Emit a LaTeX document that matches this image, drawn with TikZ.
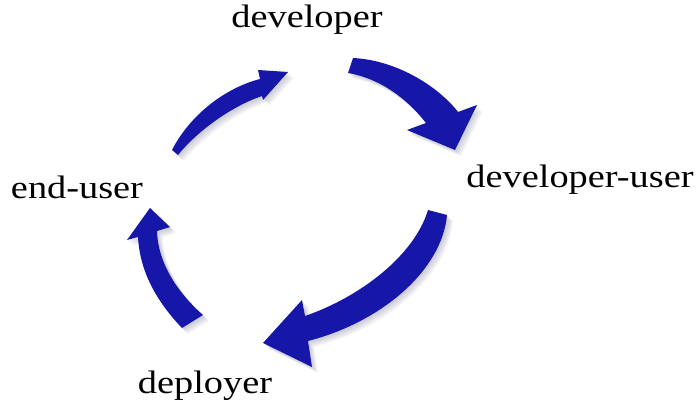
\documentclass[tikz,border=0pt]{standalone}
\usepackage{fontspec}
\setmainfont{Liberation Serif}[FakeStretch=1.18]
\definecolor{arrowblue}{RGB}{22,22,168}
\definecolor{shadowcol}{RGB}{120,120,150}
\tikzset{
  lbl/.style={font=\fontsize{32.5}{36}\selectfont, inner sep=0pt, anchor=base, text=black},
  arrowfill/.style={fill=arrowblue},
  shadowfill/.style={fill=shadowcol, opacity=0.07},
  arrowA/.style={insert path={(353,58) .. controls (395,60) and (437,85) .. (458,112) -- (477,105) -- (455,150) -- (407,130) -- (426,123) .. controls (408,100) and (382,79) .. (348,73) -- cycle}},
  arrowB/.style={insert path={(447,215) .. controls (442,270) and (382,322) .. (308,341) -- (312,367) -- (263,343) -- (302,300) -- (305,316) .. controls (360,297) and (414,256) .. (428,210) -- cycle}},
  arrowC/.style={insert path={(157,231) -- (170,227) -- (150,208) -- (127,240) -- (138,237) .. controls (140,275) and (160,305) .. (182,328) -- (203,315) .. controls (180,295) and (158,265) .. (157,231) -- cycle}},
  arrowD/.style={insert path={(260,79) .. controls (225,88) and (190,115) .. (172,150) -- (178,155) .. controls (200,128) and (235,105) .. (262,96) -- (263,100) -- (288,72) -- (258,70) -- cycle}},
}
\begin{document}
\begin{tikzpicture}[x=1pt,y=-1pt]
  \useasboundingbox[fill=white] (0,0) rectangle (697,414);
  % soft shadows
  \foreach \s in {1,2,3,4,5,6}{
    \begin{scope}[shift={(\s,\s)}]
      \fill[shadowfill, arrowA];
      \fill[shadowfill, arrowB];
      \fill[shadowfill, arrowC];
      \fill[shadowfill, arrowD];
    \end{scope}
  }
  % arrows
  \fill[arrowfill, arrowA];
  \fill[arrowfill, arrowB];
  \fill[arrowfill, arrowC];
  \fill[arrowfill, arrowD];
  % labels
  \node[lbl] (developer) at (307,28) {developer};
  \node[lbl] (devuser) at (580,188) {developer-user};
  \node[lbl] (enduser) at (77,199) {end-user};
  \node[lbl] (deployer) at (205,394) {deployer};
\end{tikzpicture}
\end{document}
